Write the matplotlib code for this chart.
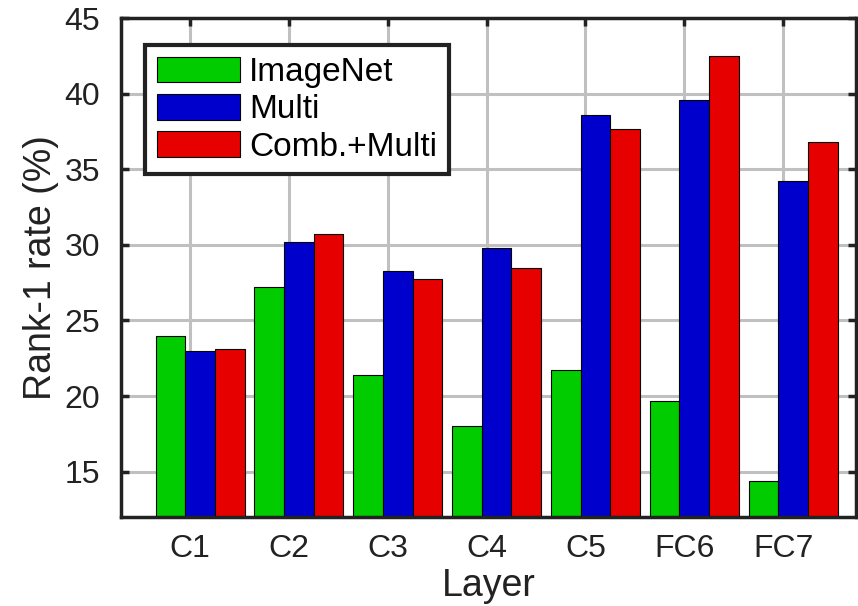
import numpy as np
import matplotlib
matplotlib.use("Agg")
import matplotlib.pyplot as plt

layers = ["C1", "C2", "C3", "C4", "C5", "FC6", "FC7"]
imagenet = [24.0, 27.2, 21.4, 18.0, 21.7, 19.7, 14.4]
multi = [23.0, 30.2, 28.3, 29.8, 38.6, 39.6, 34.2]
comb_multi = [23.1, 30.7, 27.75, 28.5, 37.7, 42.5, 36.8]

plt.rcParams['font.family'] = ['Liberation Sans', 'DejaVu Sans']

fig = plt.figure(figsize=(8.58, 6.06), dpi=100)
ax = fig.add_axes([0.141, 0.147, 0.857, 0.823])

x = np.arange(1, len(layers) + 1)
w = 0.3
shift = 0.1
ax.bar(x + shift - w, imagenet, w, color='#00cc00', edgecolor='black', linewidth=0.8, label='ImageNet', zorder=3)
ax.bar(x + shift, multi, w, color='#0000cc', edgecolor='black', linewidth=0.8, label='Multi', zorder=3)
ax.bar(x + shift + w, comb_multi, w, color='#e60000', edgecolor='black', linewidth=0.8, label='Comb.+Multi', zorder=3)

ax.set_xlim(0.3, 7.74)
ax.set_ylim(12, 45)
ax.set_xticks(x)
ax.set_xticklabels(layers)
ax.set_yticks([15, 20, 25, 30, 35, 40, 45])
ax.grid(True, color='#c0c0c0', linewidth=2.2, zorder=0)
ax.set_axisbelow(True)

for s in ax.spines.values():
    s.set_linewidth(2.5)
    s.set_color('#222222')
    s.set_zorder(5)
ax.tick_params(direction='in', length=6, width=2.5, color='#222222',
               top=True, right=True, labelsize=23, labelcolor='#222222')
ax.tick_params(axis='x', pad=12)
ax.tick_params(axis='y', pad=15)

ax.set_xlabel("Layer", fontsize=27, color='#222222', labelpad=3)
ax.set_ylabel("Rank-1 rate (%)", fontsize=27, color='#222222', labelpad=4)

leg = ax.legend(loc='upper left', bbox_to_anchor=(0.033, 0.946), fontsize=24,
                frameon=True, fancybox=False, framealpha=1, edgecolor='#222222',
                handlelength=2.5, handleheight=0.8, handletextpad=0.27,
                labelspacing=0.18, borderpad=0.35, borderaxespad=0)
leg.get_frame().set_linewidth(3)
leg.set_zorder(10)

fig.savefig("out.png", dpi=100)
